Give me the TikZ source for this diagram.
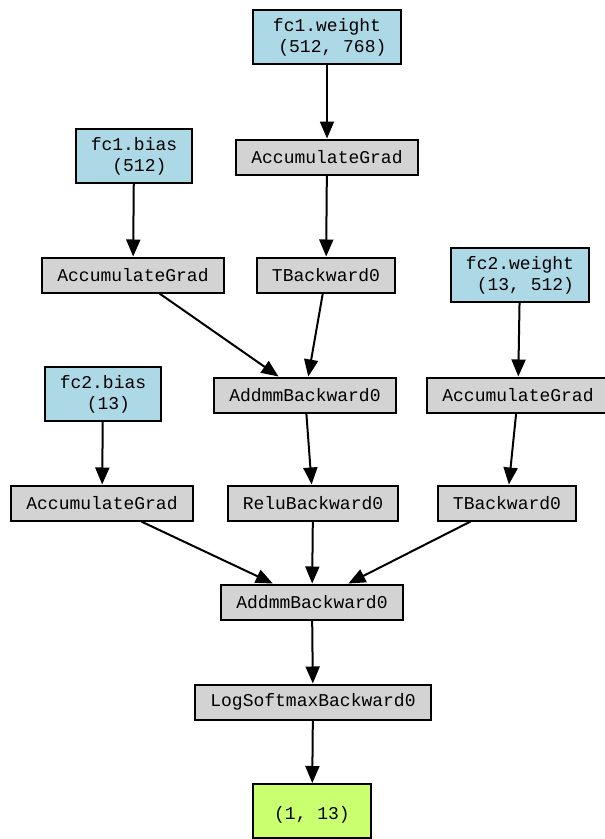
\documentclass[tikz,border=0pt]{standalone}
\usepackage{fontspec}
\setmonofont{Liberation Mono}
\usetikzlibrary{arrows.meta}
\definecolor{paramblue}{HTML}{ADD8E6}
\definecolor{gradgray}{HTML}{D3D3D3}
\definecolor{outgreen}{HTML}{CAFF70}
\tikzset{
	fn/.style={draw=black, fill=gradgray, line width=2pt, inner xsep=15pt, inner ysep=0pt, minimum height=35pt, font=\ttfamily\fontsize{18}{21}\selectfont, text=black, align=center},
	param/.style={fn, fill=paramblue, minimum height=54pt},
	outbox/.style={fn, fill=outgreen, minimum height=54pt, minimum width=118pt},
	flow/.style={line width=2pt, draw=black, -{Triangle[length=17pt,width=14pt]}}
}
\begin{document}
\begin{tikzpicture}[x=1pt, y=-1pt]
			\useasboundingbox (0,0) rectangle (605,839);
			\node[param] (w1) at (327,37) {fc1.weight\\\hphantom{0}(512, 768)};
			\node[fn] (a1) at (327,157) {AccumulateGrad};
			\node[param] (b1) at (134,156) {fc1.bias\\\hphantom{0}(512)};
			\node[fn] (a2) at (133,275) {AccumulateGrad};
			\node[fn] (t1) at (326,275) {TBackward0};
			\node[param] (w2) at (520,275) {fc2.weight\\\hphantom{0}(13, 512)};
			\node[fn] (m1) at (305,395) {AddmmBackward0};
			\node[fn] (a3) at (518,395) {AccumulateGrad};
			\node[param] (b2) at (103,394) {fc2.bias\\\hphantom{0}(13)};
			\node[fn] (a4) at (102,503) {AccumulateGrad};
			\node[fn] (relu) at (313,503) {ReluBackward0};
			\node[fn] (t2) at (507,503) {TBackward0};
			\node[fn] (m2) at (312,602) {AddmmBackward0};
			\node[fn] (lsm) at (313,702) {LogSoftmaxBackward0};
			\node[outbox] (out) at (312,811) {\mbox{}\\(1, 13)};
			\draw[flow] (w1) -- (a1);
			\draw[flow] (a1) -- (t1);
			\draw[flow] (b1) -- (a2);
			\draw[flow] (a2) -- (m1);
			\draw[flow] (t1) -- (m1);
			\draw[flow] (w2) -- (a3);
			\draw[flow] (m1) -- (relu);
			\draw[flow] (a3) -- (t2);
			\draw[flow] (b2) -- (a4);
			\draw[flow] (a4) -- (m2);
			\draw[flow] (relu) -- (m2);
			\draw[flow] (t2) -- (m2);
			\draw[flow] (m2) -- (lsm);
			\draw[flow] (lsm) -- (out);
\end{tikzpicture}
\end{document}
